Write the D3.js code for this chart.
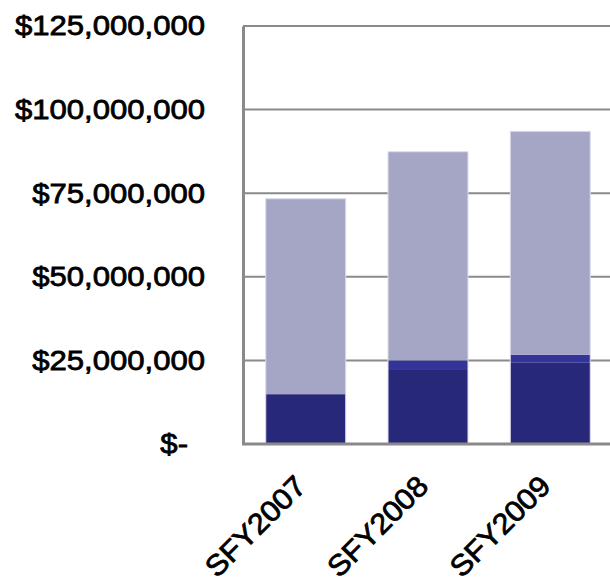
<!DOCTYPE html>
<html>
<head>
<meta charset="utf-8">
<script src="https://cdn.jsdelivr.net/npm/d3@7"></script>
<style>
  body { margin: 0; background: #fff; }
  svg { display: block; }
  .tick text { font-family: "Liberation Sans", Arial, sans-serif; fill: #000; stroke: #000; stroke-width: 0.8px; }
</style>
</head>
<body>
<div id="chart"></div>
<script>
'use strict';

// fiscal years
var years = ["SFY2007", "SFY2008", "SFY2009"];
// stacked segments, dollars (bottom to top)
var baseFunds = [14900000, 22400000, 24300000];
var midFunds = [0, 2600000, 2400000];
var topFunds = [58450000, 62400000, 66800000];
var yTicks = [0, 25000000, 50000000, 75000000, 100000000, 125000000];

var segColors = ["#28287a", "#33339a", "#a5a5c6"];

var width = 610, height = 587;
var margin = {top: 26, left: 243, bottom: 143};

var svg = d3.select("#chart").append("svg")
  .attr("width", width).attr("height", height);

var rows = years.map(function(y, i){
  return {year: y, base: baseFunds[i], mid: midFunds[i], top: topFunds[i]};
});
var stack = d3.stack().keys(["base", "mid", "top"])(rows);

var x = d3.scaleBand().domain(years)
  .range([margin.left, 613])
  .paddingInner(0.346).paddingOuter(0.186);
var y = d3.scaleLinear().domain([0, 125000000])
  .range([height - margin.bottom, margin.top]);

function money(d){
  return d === 0 ? "$-" : "$" + d3.format(",")(d);
}

// stretch text sideways like the original export
function widen(sel, k){
  sel.each(function(){
    var len = this.getComputedTextLength();
    d3.select(this).attr("textLength", len * k).attr("lengthAdjust", "spacingAndGlyphs");
  });
}

// gridlines
svg.append("g").attr("class", "grid")
  .selectAll("line").data(yTicks.slice(1)).enter().append("line")
  .attr("x1", margin.left).attr("x2", width)
  .attr("y1", function(d){return y(d);}).attr("y2", function(d){return y(d);})
  .attr("stroke", "#8a8a8a").attr("stroke-width", 2);

// bars
var layers = svg.append("g").attr("class", "bars")
  .selectAll("g").data(stack).enter().append("g")
  .attr("fill", function(d, i){return segColors[i];});

layers.selectAll("rect").data(function(d){return d;}).enter().append("rect")
  .attr("x", function(d){return x(d.data.year);})
  .attr("width", x.bandwidth())
  .attr("y", function(d){return y(d[1]);})
  .attr("height", function(d){return y(d[0]) - y(d[1]);});

// faint bar outline
svg.append("g").selectAll("rect").data(rows).enter().append("rect")
  .attr("x", function(d){return x(d.year);})
  .attr("width", x.bandwidth())
  .attr("y", function(d){return y(d.base + d.mid + d.top);})
  .attr("height", function(d){return y(0) - y(d.base + d.mid + d.top);})
  .attr("fill", "none").attr("stroke", "#dcdcec").attr("stroke-width", 1);

// y axis
var yAxis = svg.append("g")
  .attr("transform", "translate(" + margin.left + ",0)")
  .call(d3.axisLeft(y).tickValues(yTicks).tickFormat(money).tickSize(0).tickPadding(38));
yAxis.select(".domain").attr("stroke", "#8a8a8a").attr("stroke-width", 3);
yAxis.selectAll(".tick text")
  .style("font-size", "28px")
  .attr("dx", function(d){return d === 0 ? -17 : 0;})
  .call(widen, 1.11);

// x axis
var xAxis = svg.append("g")
  .attr("transform", "translate(0," + y(0) + ")")
  .call(d3.axisBottom(x).tickSize(0).tickPadding(0));
xAxis.select(".domain").attr("stroke", "#8a8a8a").attr("stroke-width", 3)
  .attr("d", "M" + (margin.left - 1) + ",0H" + width);
xAxis.selectAll(".tick text")
  .style("font-size", "29px")
  .attr("text-anchor", "end")
  .attr("dy", 0)
  .attr("transform", "translate(2,44) rotate(-45)")
  .call(widen, 1.06);

// cut-off glyph at the bottom edge
svg.append("text")
  .attr("x", 515).attr("y", 605)
  .style("font-family", "Liberation Sans, Arial, sans-serif")
  .style("font-size", "26px")
  .text("O");
</script>
</body>
</html>
